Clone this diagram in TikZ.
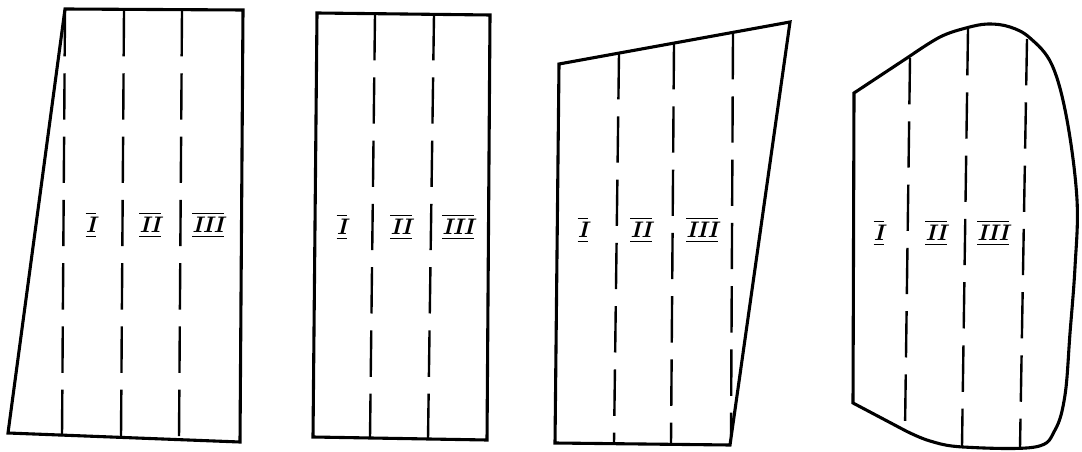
\documentclass[tikz,border=0pt]{standalone}
\usepackage{tikz}
\usepackage{amsmath}
\usetikzlibrary{positioning}
\newcommand{\seclabel}[1]{$\overline{\underline{\textit{\bfseries #1}}}$}

\begin{document}
\begin{tikzpicture}[x=0.025cm, y=-0.025cm,
                    outline/.style={line width=2.2pt, line join=miter},
                    cutline/.style={line width=1.7pt, dash pattern=on 33pt off 12pt},
                    zonelabel/.style={font=\fontsize{16}{16}\selectfont, inner sep=0pt}]
                    \useasboundingbox (0,0) rectangle (1082,452);
                    % skewed left edge
                    \draw[outline] (65,9) -- (243,10) -- (240,442) -- (8,433) -- cycle;
                    \draw[cutline] (65,10) -- (62,437);
                    \draw[cutline] (124,10) -- (121,438);
                    \draw[cutline] (182,10) -- (179,440);
                    \node[zonelabel] (a1) at (91,225) {\seclabel{I}};
                    \node[zonelabel] (a2) at (150,225) {\seclabel{II}};
                    \node[zonelabel] (a3) at (208,225) {\seclabel{III}};
                    % plain rectangle
                    \draw[outline] (317,13) -- (490,15) -- (487,440) -- (313,437) -- cycle;
                    \draw[cutline] (375,14) -- (370,438);
                    \draw[cutline] (434,14) -- (428,439);
                    \node[zonelabel] (b1) at (342,227) {\seclabel{I}};
                    \node[zonelabel] (b2) at (401,227) {\seclabel{II}};
                    \node[zonelabel] (b3) at (458,227) {\seclabel{III}};
                    % slanted top, tapered right edge
                    \draw[outline] (559,64) -- (790,22) -- (730,445) -- (555,443) -- cycle;
                    \draw[cutline] (619,53) -- (614,443);
                    \draw[cutline] (674,43) -- (671,444);
                    \draw[cutline] (733,33) -- (731,436);
                    \node[zonelabel] (c1) at (583,230) {\seclabel{I}};
                    \node[zonelabel] (c2) at (641,230) {\seclabel{II}};
                    \node[zonelabel] (c3) at (702,230) {\seclabel{III}};
                    % curved outline
                    \draw[outline] (854,93) -- plot[smooth, tension=0.6] coordinates {(910,56)
                          (940,37) (966,28) (988,24) (1010,27) (1030,38) (1052,65) (1067,120)
                          (1077,200) (1075,267) (1070,333) (1065,395) (1055,430) (1035,447)
                          (963,447) (930,441) (906,431)}
                          -- (853,403) -- cycle;
                    \draw[cutline] (910,58) -- (905,430);
                    \draw[cutline] (968,29) -- (962,446);
                    \draw[cutline] (1027,39) -- (1020,447);
                    \node[zonelabel] (d1) at (879,233) {\seclabel{I}};
                    \node[zonelabel] (d2) at (936,233) {\seclabel{II}};
                    \node[zonelabel] (d3) at (993,233) {\seclabel{III}};
                \end{tikzpicture}
\end{document}
